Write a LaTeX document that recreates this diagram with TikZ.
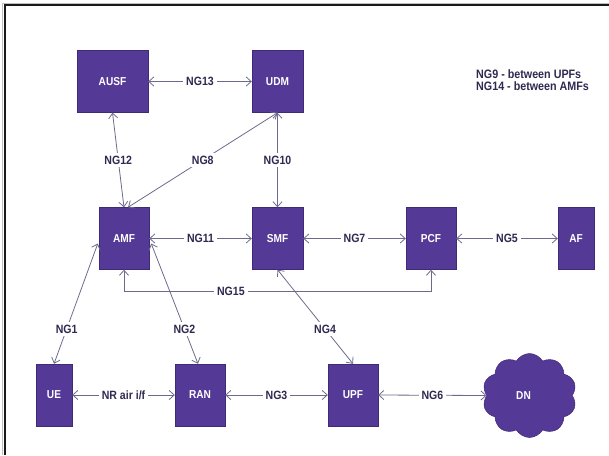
\documentclass[tikz,border=0pt]{standalone}
\usepackage{fontspec}
\setmainfont{Liberation Sans}
\newfontfamily\narrowsans{Liberation Sans}[FakeStretch=0.88]
\usetikzlibrary{arrows.meta,calc,shapes.symbols}

\definecolor{nfpurple}{HTML}{553996}
\definecolor{nfedge}{HTML}{3F2A78}
\definecolor{linkgray}{HTML}{6E6A8C}
\definecolor{labelink}{HTML}{2E2A50}

\tikzset{
  nf/.style={draw=nfedge, line width=0.4pt, fill=nfpurple, text=white,
    font=\narrowsans\bfseries\fontsize{11.5}{13}\selectfont, inner sep=0pt, minimum height=62pt},
  link/.style={draw=linkgray, line width=0.8pt,
    {Straight Barb[length=5pt,width=9pt]}-{Straight Barb[length=5pt,width=9pt]}},
  lbl/.style={fill=white, text=labelink, inner sep=3pt,
    font=\narrowsans\bfseries\fontsize{12}{14}\selectfont},
  legend/.style={text=labelink, anchor=west, inner sep=0pt,
    font=\narrowsans\bfseries\fontsize{12.2}{14}\selectfont}
}

\begin{document}
\begin{tikzpicture}[x=1pt,y=-1pt]
\useasboundingbox (0,0) rectangle (609,455);

% outer frame (left and top edges)
\draw[black!25, line width=1pt] (2.5,455) -- (2.5,3) -- (609,3);
\draw[black!90, line width=2pt] (4.5,455) -- (4.5,5) -- (609,5);

% network functions
\node[nf, minimum width=71pt] (AUSF) at (112.5,81.5) {AUSF};
\node[nf, minimum width=51pt] (UDM)  at (277.5,81.5) {UDM};
\node[nf, minimum width=50pt] (AMF)  at (124,238.5) {AMF};
\node[nf, minimum width=51pt] (SMF)  at (277.5,238.5) {SMF};
\node[nf, minimum width=50pt] (PCF)  at (431,238.5) {PCF};
\node[nf, minimum width=36pt] (AF)   at (576,238.5) {AF};
\node[nf, minimum width=36pt] (UE)   at (54,395) {UE};
\node[nf, minimum width=50pt] (RAN)  at (200,395) {RAN};
\node[nf, minimum width=50pt] (UPF)  at (353,395) {UPF};
\node[cloud, cloud puffs=10, cloud puff arc=120, cloud ignores aspect,
      draw=nfedge, line width=0.5pt, fill=nfpurple, text=white,
      font=\narrowsans\bfseries\fontsize{11.5}{13}\selectfont,
      minimum width=94pt, minimum height=84pt, inner sep=0pt]
      (DN) at (529.5,395.5) {\hspace*{-12pt}DN};

% reference points
\coordinate (amfN8)  at ($(AMF.north)+(4,0)$);
\coordinate (amfL)   at ($(AMF.west)+(-1,5)$);
\coordinate (amfR)   at ($(AMF.east)+(2,5)$);
\coordinate (ranN)   at ($(RAN.north)+(-2,0)$);
\coordinate (amfLow) at ($(AMF.south)+(0,22)$);

% interfaces
\draw[link] (AUSF.east) -- node[lbl]{NG13} (UDM.west);
\draw[link] (AMF.north) -- node[lbl]{NG12} (AUSF.south);
\draw[link] (amfN8) -- node[lbl]{NG8} (UDM.south);
\draw[link] (UDM.south) -- node[lbl]{NG10} (SMF.north);
\draw[link] (AMF.east) -- node[lbl]{NG11} (SMF.west);
\draw[link] (SMF.east) -- node[lbl]{NG7} (PCF.west);
\draw[link] (PCF.east) -- node[lbl]{NG5} (AF.west);
\draw[link] (AMF.south) -- (amfLow) -| node[lbl, pos=0.174]{NG15} (PCF.south);
\draw[link] (amfL) -- node[lbl, pos=0.71]{NG1} (UE.north);
\draw[link] (amfR) -- node[lbl, pos=0.71]{NG2} (ranN);
\draw[link] (SMF.south) -- node[lbl, pos=0.63]{NG4} (UPF.north);
\draw[link] (UE.east) -- node[lbl]{NR air i/f} (RAN.west);
\draw[link] (RAN.east) -- node[lbl]{NG3} (UPF.west);
\draw[link] (UPF.east) -- node[lbl]{NG6} (DN.west);

% notes
\node[legend] (note1) at (476,74.5) {NG9 - between UPFs};
\node[legend] (note2) at (476,86) {NG14 - between AMFs};
\end{tikzpicture}
\end{document}
